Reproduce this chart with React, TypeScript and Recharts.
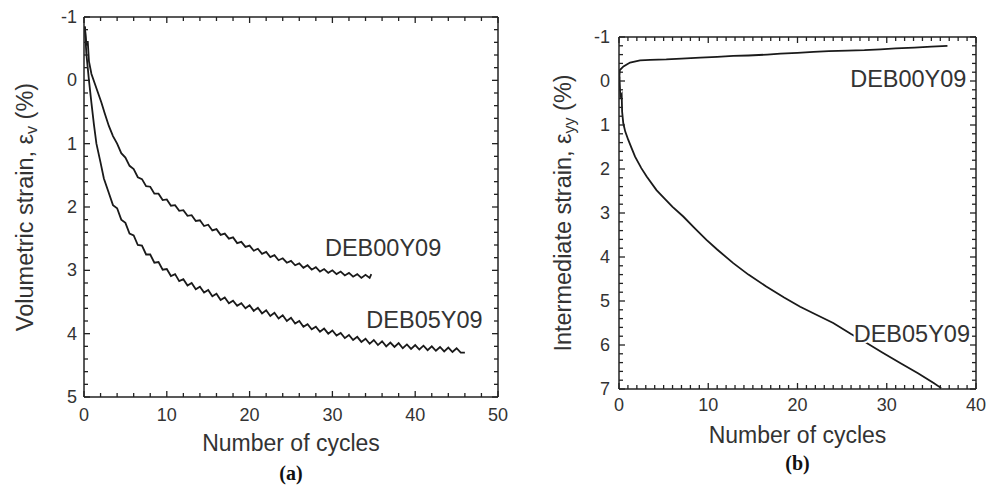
import React from 'react'
import { LineChart, Line, XAxis, YAxis, ReferenceDot } from 'recharts'

// (a) volumetric strain vs number of cycles
const volDEB00Y09 = [
  { n: 0.1, e: -0.85 }, { n: 0.3, e: -0.55 }, { n: 0.45, e: -0.62 }, { n: 0.6, e: -0.3 },
  { n: 0.9, e: -0.1 }, { n: 1.3, e: 0.05 }, { n: 1.7, e: 0.2 }, { n: 2.1, e: 0.35 },
  { n: 2.5, e: 0.52 }, { n: 3, e: 0.72 }, { n: 3.5, e: 0.88 }, { n: 4, e: 1.0 },
  { n: 4.5, e: 1.15 }, { n: 5, e: 1.22 }, { n: 5.5, e: 1.35 }, { n: 6, e: 1.4 },
  { n: 6.5, e: 1.53 }, { n: 7, e: 1.56 }, { n: 7.5, e: 1.67 }, { n: 8, e: 1.68 },
  { n: 8.5, e: 1.79 }, { n: 9, e: 1.79 }, { n: 9.5, e: 1.89 }, { n: 10, e: 1.88 },
  { n: 10.5, e: 1.98 }, { n: 11, e: 1.97 }, { n: 11.5, e: 2.06 }, { n: 12, e: 2.05 },
  { n: 12.5, e: 2.14 }, { n: 13, e: 2.13 }, { n: 13.5, e: 2.22 }, { n: 14, e: 2.21 },
  { n: 14.5, e: 2.3 }, { n: 15, e: 2.28 }, { n: 15.5, e: 2.37 }, { n: 16, e: 2.35 },
  { n: 16.5, e: 2.44 }, { n: 17, e: 2.42 }, { n: 17.5, e: 2.5 }, { n: 18, e: 2.48 },
  { n: 18.5, e: 2.57 }, { n: 19, e: 2.55 }, { n: 19.5, e: 2.63 }, { n: 20, e: 2.61 },
  { n: 20.5, e: 2.69 }, { n: 21, e: 2.66 }, { n: 21.5, e: 2.74 }, { n: 22, e: 2.71 },
  { n: 22.5, e: 2.79 }, { n: 23, e: 2.76 }, { n: 23.5, e: 2.84 }, { n: 24, e: 2.81 },
  { n: 24.5, e: 2.88 }, { n: 25, e: 2.85 }, { n: 25.5, e: 2.92 }, { n: 26, e: 2.89 },
  { n: 26.5, e: 2.96 }, { n: 27, e: 2.92 }, { n: 27.5, e: 2.99 }, { n: 28, e: 2.95 },
  { n: 28.5, e: 3.02 }, { n: 29, e: 2.98 }, { n: 29.5, e: 3.04 }, { n: 30, e: 3.0 },
  { n: 30.5, e: 3.06 }, { n: 31, e: 3.02 }, { n: 31.5, e: 3.08 }, { n: 32, e: 3.04 },
  { n: 32.5, e: 3.1 }, { n: 33, e: 3.06 }, { n: 33.5, e: 3.12 }, { n: 34, e: 3.07 },
  { n: 34.5, e: 3.12 }, { n: 34.7, e: 3.06 },
]

const volDEB05Y09 = [
  { n: 0.1, e: -0.85 }, { n: 0.28, e: -0.43 }, { n: 0.6, e: 0.0 }, { n: 0.9, e: 0.36 },
  { n: 1.2, e: 0.7 }, { n: 1.5, e: 1.0 }, { n: 2, e: 1.3 }, { n: 2.4, e: 1.55 },
  { n: 3, e: 1.78 }, { n: 3.5, e: 1.97 }, { n: 4, e: 2.02 }, { n: 4.5, e: 2.2 },
  { n: 5, e: 2.25 }, { n: 5.5, e: 2.42 }, { n: 6, e: 2.45 }, { n: 6.5, e: 2.6 },
  { n: 7, e: 2.61 }, { n: 7.5, e: 2.75 }, { n: 8, e: 2.75 }, { n: 8.5, e: 2.88 },
  { n: 9, e: 2.87 }, { n: 9.5, e: 2.99 }, { n: 10, e: 2.98 }, { n: 10.5, e: 3.09 },
  { n: 11, e: 3.06 }, { n: 11.5, e: 3.17 }, { n: 12, e: 3.14 }, { n: 12.5, e: 3.24 },
  { n: 13, e: 3.2 }, { n: 13.5, e: 3.3 }, { n: 14, e: 3.26 }, { n: 14.5, e: 3.35 },
  { n: 15, e: 3.31 }, { n: 15.5, e: 3.41 }, { n: 16, e: 3.37 }, { n: 16.5, e: 3.47 },
  { n: 17, e: 3.43 }, { n: 17.5, e: 3.52 }, { n: 18, e: 3.48 }, { n: 18.5, e: 3.56 },
  { n: 19, e: 3.52 }, { n: 19.5, e: 3.6 }, { n: 20, e: 3.55 }, { n: 20.5, e: 3.64 },
  { n: 21, e: 3.59 }, { n: 21.5, e: 3.68 }, { n: 22, e: 3.63 }, { n: 22.5, e: 3.72 },
  { n: 23, e: 3.67 }, { n: 23.5, e: 3.76 }, { n: 24, e: 3.71 }, { n: 24.5, e: 3.8 },
  { n: 25, e: 3.75 }, { n: 25.5, e: 3.84 }, { n: 26, e: 3.8 }, { n: 26.5, e: 3.89 },
  { n: 27, e: 3.85 }, { n: 27.5, e: 3.93 }, { n: 28, e: 3.89 }, { n: 28.5, e: 3.97 },
  { n: 29, e: 3.92 }, { n: 29.5, e: 4.0 }, { n: 30, e: 3.95 }, { n: 30.5, e: 4.03 },
  { n: 31, e: 3.99 }, { n: 31.5, e: 4.07 }, { n: 32, e: 4.02 }, { n: 32.5, e: 4.1 },
  { n: 33, e: 4.05 }, { n: 33.5, e: 4.13 }, { n: 34, e: 4.08 }, { n: 34.5, e: 4.16 },
  { n: 35, e: 4.1 }, { n: 35.5, e: 4.18 }, { n: 36, e: 4.12 }, { n: 36.5, e: 4.2 },
  { n: 37, e: 4.14 }, { n: 37.5, e: 4.21 }, { n: 38, e: 4.15 }, { n: 38.5, e: 4.23 },
  { n: 39, e: 4.17 }, { n: 39.5, e: 4.24 }, { n: 40, e: 4.18 }, { n: 40.5, e: 4.25 },
  { n: 41, e: 4.19 }, { n: 41.5, e: 4.26 }, { n: 42, e: 4.2 }, { n: 42.5, e: 4.27 },
  { n: 43, e: 4.21 }, { n: 43.5, e: 4.28 }, { n: 44, e: 4.22 }, { n: 44.5, e: 4.29 },
  { n: 45, e: 4.23 }, { n: 45.5, e: 4.3 }, { n: 46, e: 4.3 },
]

// (b) intermediate strain vs number of cycles
const intDEB00Y09 = [
  { n: 0, e: 0.0 }, { n: 0.1, e: -0.25 }, { n: 0.5, e: -0.33 }, { n: 1.24, e: -0.42 },
  { n: 2.36, e: -0.47 }, { n: 3.5, e: -0.48 }, { n: 5.3, e: -0.49 }, { n: 7, e: -0.51 },
  { n: 9.1, e: -0.53 }, { n: 11, e: -0.55 }, { n: 12.8, e: -0.57 }, { n: 14.5, e: -0.58 },
  { n: 16.6, e: -0.6 }, { n: 18.1, e: -0.62 }, { n: 20, e: -0.64 }, { n: 21.8, e: -0.66 },
  { n: 23.5, e: -0.68 }, { n: 25.6, e: -0.69 }, { n: 27.5, e: -0.7 }, { n: 29.3, e: -0.72 },
  { n: 31, e: -0.74 }, { n: 33.1, e: -0.76 }, { n: 35, e: -0.78 }, { n: 36.8, e: -0.8 },
]

const intDEB05Y09 = [
  { n: 0.05, e: -0.1 }, { n: 0.15, e: 0.35 }, { n: 0.3, e: 0.3 }, { n: 0.35, e: 0.7 },
  { n: 0.48, e: 0.96 }, { n: 0.7, e: 1.15 }, { n: 1.04, e: 1.34 }, { n: 1.4, e: 1.52 },
  { n: 1.8, e: 1.72 }, { n: 2.5, e: 1.98 }, { n: 3.1, e: 2.17 }, { n: 4.2, e: 2.48 },
  { n: 5, e: 2.65 }, { n: 6, e: 2.86 }, { n: 7.2, e: 3.08 }, { n: 8.5, e: 3.35 },
  { n: 9.8, e: 3.61 }, { n: 11, e: 3.83 }, { n: 12.8, e: 4.14 }, { n: 14.5, e: 4.4 },
  { n: 16.5, e: 4.67 }, { n: 18.5, e: 4.92 }, { n: 20.3, e: 5.13 }, { n: 22, e: 5.3 },
  { n: 24, e: 5.5 }, { n: 26, e: 5.75 }, { n: 27.8, e: 5.96 }, { n: 29.5, e: 6.17 },
  { n: 31.6, e: 6.42 }, { n: 33.5, e: 6.64 }, { n: 35.3, e: 6.87 }, { n: 36.1, e: 6.98 },
]

const majorAX = [0, 10, 20, 30, 40, 50]
const majorAY = [-1, 0, 1, 2, 3, 4, 5]
const majorBX = [0, 10, 20, 30, 40]
const majorBY = [-1, 0, 1, 2, 3, 4, 5, 6, 7]

const INK = '#222'
const TEXT = '#333'
const SANS = '"Liberation Sans", Arial, Helvetica, sans-serif'

// tick marks between majors (inward ticks drawn by the custom tick renderers)
function withMinor(majors: number[], step: number) {
  const out: number[] = []
  const lo = majors[0]
  const hi = majors[majors.length - 1]
  const count = Math.round((hi - lo) / step)
  for (let i = 0; i <= count; i++) out.push(+(lo + i * step).toFixed(3))
  return out
}

function makeTick(side: 'bottom' | 'top' | 'left' | 'right', majors: number[], labelGap = 0) {
  return (props: any) => {
    const { x, y, payload } = props
    const v = payload.value
    const major = majors.some((m) => Math.abs(m - v) < 1e-6)
    const len = major ? 6 : 4
    let line = null
    let label = null
    if (side === 'bottom') {
      line = <line x1={x} y1={y} x2={x} y2={y - len} stroke={INK} strokeWidth={1.3} />
      if (major)
        label = (
          <text x={x} y={y + labelGap} textAnchor="middle" dominantBaseline="central" fontSize={18} fill={TEXT} fontFamily={SANS}>
            {v}
          </text>
        )
    } else if (side === 'top') {
      line = <line x1={x} y1={y} x2={x} y2={y + len} stroke={INK} strokeWidth={1.3} />
    } else if (side === 'left') {
      line = <line x1={x} y1={y} x2={x + len} y2={y} stroke={INK} strokeWidth={1.3} />
      if (major)
        label = (
          <text x={x - labelGap} y={y} textAnchor="end" dominantBaseline="central" fontSize={18} fill={TEXT} fontFamily={SANS}>
            {v}
          </text>
        )
    } else {
      line = <line x1={x} y1={y} x2={x - len} y2={y} stroke={INK} strokeWidth={1.3} />
    }
    return (
      <g>
        {line}
        {label}
      </g>
    )
  }
}

function curveLabel(text: string, halo = false) {
  return (props: any) => {
    const vb = props.viewBox || {}
    return (
      <text x={vb.x} y={vb.y} textAnchor="start" dominantBaseline="central" fontSize={23.5} fill={TEXT} fontFamily={SANS}
        stroke={halo ? '#fff' : 'none'} strokeWidth={halo ? 4 : 0} paintOrder="stroke">
        {text}
      </text>
    )
  }
}

function xTitle(caption: string, titleDy: number, captionDy: number) {
  return (props: any) => {
    const vb = props.viewBox
    const cx = vb.x + vb.width / 2
    return (
      <g>
        <text x={cx} y={vb.y + titleDy} textAnchor="middle" dominantBaseline="central" fontSize={23} fill={TEXT} fontFamily={SANS}>
          Number of cycles
        </text>
        <text x={cx} y={vb.y + captionDy} textAnchor="middle" dominantBaseline="central" fontSize={20} fontWeight="bold" fill="#111" fontFamily='"Liberation Serif", "Times New Roman", serif'>
          {caption}
        </text>
      </g>
    )
  }
}

function yTitle(main: string, sub: string, cxOffset: number) {
  return (props: any) => {
    const vb = props.viewBox
    const cx = vb.x + cxOffset
    const cy = vb.y + vb.height / 2
    return (
      <text x={cx} y={cy} transform={`rotate(-90 ${cx} ${cy})`} textAnchor="middle" dominantBaseline="central" fontSize={23.5} fill={TEXT} fontFamily={SANS}>
        {main}
        <tspan fontSize={16} dy={6}>{sub}</tspan>
        <tspan dy={-6}> (%)</tspan>
      </text>
    )
  }
}

const lineProps = {
  dataKey: 'e',
  type: 'linear' as const,
  stroke: '#1a1a1a',
  strokeWidth: 1.8,
  dot: false,
  isAnimationActive: false,
}

const frameAxis = {
  tickSize: 0,
  tickMargin: 0,
  tickLine: false,
  interval: 0 as const,
  allowDataOverflow: true,
  axisLine: { stroke: INK, strokeWidth: 1.5 },
}

function PanelA() {
  const xt = withMinor(majorAX, 2)
  const yt = withMinor(majorAY, 0.2)
  return (
    <LineChart width={520} height={488} margin={{ top: 16, right: 21, bottom: 61, left: 0 }}>
      <XAxis {...frameAxis} xAxisId="b" dataKey="n" type="number" domain={[0, 50]} ticks={xt} height={30}
        tick={makeTick('bottom', majorAX, 18)} label={{ content: xTitle('(a)', 46, 76) }} />
      <XAxis {...frameAxis} xAxisId="t" orientation="top" dataKey="n" type="number" domain={[0, 50]} ticks={xt} height={1}
        tick={makeTick('top', majorAX)} />
      <YAxis {...frameAxis} yAxisId="l" type="number" reversed domain={[-1, 5]} ticks={yt} width={84}
        tick={makeTick('left', majorAY, 7)} label={{ content: yTitle('Volumetric strain, ε', 'v', 25) }} />
      <YAxis {...frameAxis} yAxisId="r" orientation="right" type="number" reversed domain={[-1, 5]} ticks={yt} width={1}
        tick={makeTick('right', majorAY)} />
      <Line {...lineProps} data={volDEB00Y09} xAxisId="b" yAxisId="l" />
      <Line {...lineProps} data={volDEB05Y09} xAxisId="b" yAxisId="l" />
      <Line {...lineProps} data={volDEB00Y09} xAxisId="t" yAxisId="r" stroke="none" />
      <ReferenceDot xAxisId="b" yAxisId="l" x={29.1} y={2.65} r={0} stroke="none" fill="none" label={{ content: curveLabel('DEB00Y09') }} />
      <ReferenceDot xAxisId="b" yAxisId="l" x={34.1} y={3.79} r={0} stroke="none" fill="none" label={{ content: curveLabel('DEB05Y09') }} />
    </LineChart>
  )
}

function PanelB() {
  const xt = withMinor(majorBX, 1)
  const yt = withMinor(majorBY, 0.2)
  return (
    <LineChart width={477} height={488} margin={{ top: 36, right: 20, bottom: 69, left: 0 }}>
      <XAxis {...frameAxis} xAxisId="b" dataKey="n" type="number" domain={[0, 40]} ticks={xt} height={30}
        tick={makeTick('bottom', majorBX, 16)} label={{ content: xTitle('(b)', 46, 74) }} />
      <XAxis {...frameAxis} xAxisId="t" orientation="top" dataKey="n" type="number" domain={[0, 40]} ticks={xt} height={1}
        tick={makeTick('top', majorBX)} />
      <YAxis {...frameAxis} yAxisId="l" type="number" reversed domain={[-1, 7]} ticks={yt} width={99}
        tick={makeTick('left', majorBY, 9)} label={{ content: yTitle('Intermediate strain, ε', 'yy', 43) }} />
      <YAxis {...frameAxis} yAxisId="r" orientation="right" type="number" reversed domain={[-1, 7]} ticks={yt} width={1}
        tick={makeTick('right', majorBY)} />
      <Line {...lineProps} data={intDEB00Y09} xAxisId="b" yAxisId="l" />
      <Line {...lineProps} data={intDEB05Y09} xAxisId="b" yAxisId="l" />
      <Line {...lineProps} data={intDEB00Y09} xAxisId="t" yAxisId="r" stroke="none" />
      <ReferenceDot xAxisId="b" yAxisId="l" x={25.9} y={-0.05} r={0} stroke="none" fill="none" label={{ content: curveLabel('DEB00Y09') }} />
      <ReferenceDot xAxisId="b" yAxisId="l" x={26.3} y={5.75} r={0} stroke="none" fill="none" label={{ content: curveLabel('DEB05Y09', true) }} />
    </LineChart>
  )
}

export default function App() {
  return (
    <div style={{ position: 'absolute', left: 0, top: 0, width: 997, height: 488, background: '#fff' }}>
      <div style={{ position: 'absolute', left: 0, top: 0 }}>
        <PanelA />
      </div>
      <div style={{ position: 'absolute', left: 520, top: 0 }}>
        <PanelB />
      </div>
    </div>
  )
}
